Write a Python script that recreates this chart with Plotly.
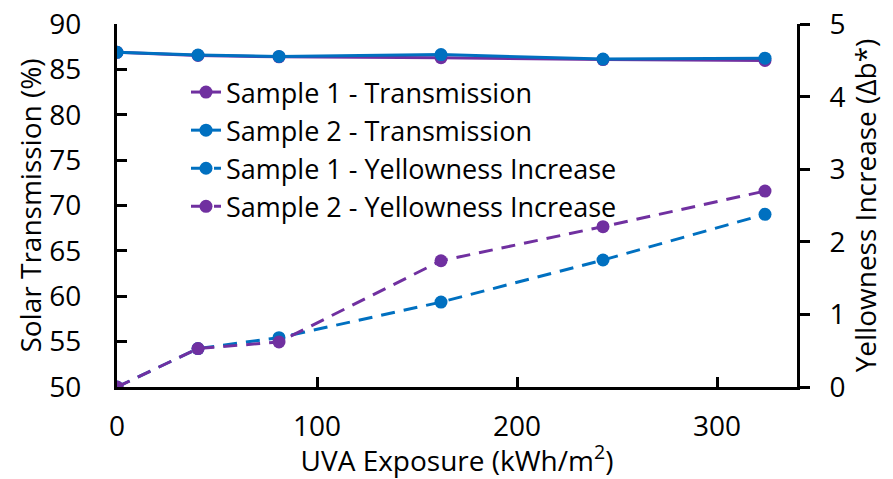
import plotly.graph_objects as go

uva_exposure = [0, 40.5, 81, 162, 243, 324]
s1_transmission = [86.9, 86.55, 86.4, 86.3, 86.1, 86.0]
s2_transmission = [86.9, 86.6, 86.45, 86.65, 86.15, 86.25]
s1_yellowness = [0.0, 0.53, 0.68, 1.17, 1.75, 2.38]
s2_yellowness = [0.0, 0.53, 0.62, 1.74, 2.21, 2.70]

x_ticks = [0, 100, 200, 300]
y_ticks = [50, 55, 60, 65, 70, 75, 80, 85, 90]
y2_ticks = [0, 1, 2, 3, 4, 5]

BLUE = "#0070C0"
PURPLE = "#7030A0"
FONT = "Open Sans"
FS = 28

W, H = 893, 479
ML, MR, MT, MB = 117, 96, 24, 92

fig = go.Figure()
fig.add_trace(go.Scatter(x=uva_exposure, y=s1_transmission, name="Sample 1 - Transmission",
                         mode="lines+markers", line=dict(color=PURPLE, width=3),
                         marker=dict(color=PURPLE, size=13), yaxis="y"))
fig.add_trace(go.Scatter(x=uva_exposure, y=s2_transmission, name="Sample 2 - Transmission",
                         mode="lines+markers", line=dict(color=BLUE, width=3),
                         marker=dict(color=BLUE, size=13), yaxis="y"))
fig.add_trace(go.Scatter(x=uva_exposure, y=s1_yellowness, name="Sample 1 - Yellowness Increase",
                         mode="lines+markers", line=dict(color=BLUE, width=3, dash="14px,9px"),
                         marker=dict(color=BLUE, size=13), yaxis="y2"))
fig.add_trace(go.Scatter(x=uva_exposure, y=s2_yellowness, name="Sample 2 - Yellowness Increase",
                         mode="lines+markers", line=dict(color=PURPLE, width=3, dash="14px,9px"),
                         marker=dict(color=PURPLE, size=13), yaxis="y2"))

plot_w = W - ML - MR
plot_h = H - MT - MB

fig.update_layout(
    width=W, height=H,
    margin=dict(l=ML, r=MR, t=MT, b=MB, pad=0),
    paper_bgcolor="white", plot_bgcolor="white",
    font=dict(family=FONT, size=FS, color="black"),
    showlegend=True,
    legend=dict(x=(186 - ML) / plot_w, y=1 - (68 - MT) / plot_h,
                xanchor="left", yanchor="top", bgcolor="rgba(0,0,0,0)",
                font=dict(size=27), tracegroupgap=0),
    xaxis=dict(range=[0, 340], tickvals=x_ticks, showgrid=False, zeroline=False,
               showline=True, linecolor="black", linewidth=3, ticks="inside", ticklen=10,
               tickwidth=3, tickcolor="black", ticklabelstandoff=12,
               ticklabeloverflow="allow",
               title=dict(text="UVA Exposure (kWh/m<sup>2</sup>)", standoff=17,
                          font=dict(size=FS)),
               automargin=False),
    yaxis=dict(range=[50, 90.02], tickvals=y_ticks, showgrid=False,
               zeroline=False, showline=True, linecolor="black", linewidth=3, ticks="inside",
               ticklen=10, tickwidth=3, tickcolor="black", ticklabelstandoff=27,
               ticklabeloverflow="allow",
               title=dict(text="Solar Transmission (%)", standoff=0, font=dict(size=FS)),
               automargin=False),
    yaxis2=dict(range=[0, 5.0025], tickvals=y2_ticks, overlaying="y", side="right",
                showgrid=False, zeroline=False, showline=True, linecolor="black", linewidth=3,
                ticks="outside", ticklen=10, tickwidth=3, tickcolor="black",
                ticklabelstandoff=14, ticklabeloverflow="allow",
                title=dict(text="Yellowness Increase (Δb*)", standoff=6, font=dict(size=FS)),
                automargin=False),
)

fig.write_html("out.html", config={"displayModeBar": False},
               post_script="document.body.style.margin='0';document.body.style.overflow='hidden';")
